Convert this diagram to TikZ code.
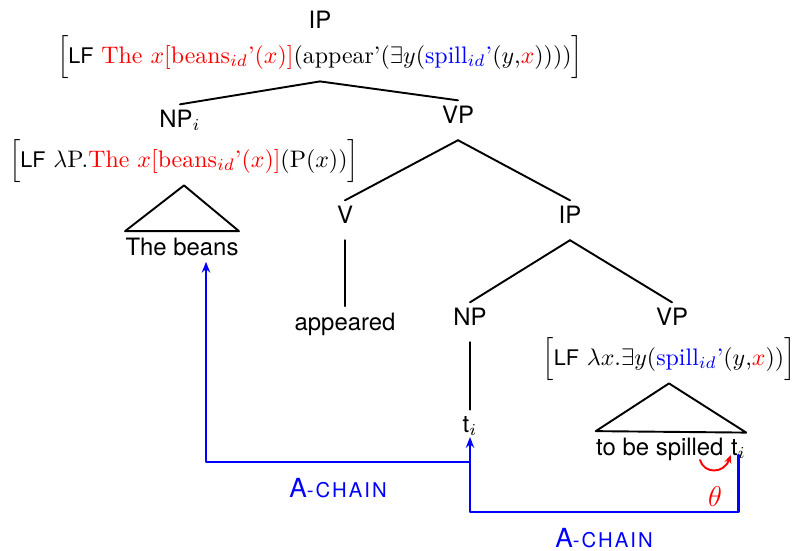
\documentclass[tikz,border=0pt]{standalone}
\usepackage{fontspec}
\setsansfont{TeX Gyre Heros}
\usepackage{amsmath}
\usepackage{xcolor}
\usetikzlibrary{arrows.meta,calc}

\newcommand{\lftag}{\textsf{\small LF}}
\newcommand{\achainlabel}{{\fontsize{11}{13}\selectfont A}{\fontsize{8.5}{10}\selectfont\addfontfeature{LetterSpace=10}-CHAIN}}

\begin{document}
\begin{tikzpicture}[
    x=0.4184pt, y=-0.4184pt,
    line cap=round,
    line join=round,
    every node/.style={font=\sffamily},
    cat/.style={inner xsep=1pt, inner ysep=2pt, text depth=5pt, anchor=base},
    leaf/.style={inner xsep=0pt, inner ysep=2.5pt, anchor=base},
    lf/.style={font=\rmfamily, inner sep=1pt, anchor=base},
    branch/.style={line width=0.8pt},
    achain/.style={blue, line width=1pt, -{Stealth[length=4.5pt,width=3.5pt]}},
    chainlabel/.style={blue, anchor=base}
]

\useasboundingbox (0,0) rectangle (798,550);

% -----------------------------
% Top: IP and its LF
% -----------------------------
\node[cat] (ip) at (320,28) {IP};
\node[lf] (iplf) at (320,63)
{$\Big[$\lftag\ \textcolor{red}{The $x$[beans$_{id}$'($x$)]}(appear'($\exists y$(\textcolor{blue}{spill$_{id}$'}($y$,\textcolor{red}{$x$}))))$\Big]$};

% -----------------------------
% Subject NP
% -----------------------------
\node[cat] (np) at (180,127) {NP$_i$};
\node[lf] (nplf) at (184,167)
{$\Big[$\lftag\ $\lambda$P.\textcolor{red}{The $x$[beans$_{id}$'($x$)]}(P($x$))$\Big]$};
\node[leaf] (beans) at (182,255) {The beans};

\draw[branch] (beans.north west) -- (nplf.south) -- (beans.north east) -- cycle;

% -----------------------------
% Matrix VP
% -----------------------------
\node[cat] (vp) at (458,123) {VP};
\node[cat] (v) at (345,223) {V};
\node[leaf] (appeared) at (345,330) {appeared};
\node[cat] (ipb) at (570,223) {IP};

\draw[branch] (iplf.south) -- (np.north);
\draw[branch] (iplf.south) -- (vp.north);
\draw[branch] (vp.south) -- (v.north);
\draw[branch] (vp.south) -- (ipb.north);
\draw[branch] (v.south) -- (appeared.north);

% -----------------------------
% Embedded IP
% -----------------------------
\node[cat] (npb) at (470,325) {NP};
\node[leaf] (ti) at (470,432) {t$_i$};
\node[cat] (vpb) at (672,325) {VP};
\node[lf] (vplf) at (669,365)
{$\Big[$\lftag\ $\lambda x.\exists y$(\textcolor{blue}{spill$_{id}$'}($y$,\textcolor{red}{$x$}))$\Big]$};

\node[leaf, anchor=base east] (spilled) at (724,455) {to be spilled};
\node[leaf, anchor=base west] (tobj) at ([xshift=2.78pt]spilled.base east) {t$_i$};

\draw[branch] (ipb.south) -- (npb.north);
\draw[branch] (ipb.south) -- (vpb.north);
\draw[branch] (npb.south) -- (ti.north);
\draw[branch] (spilled.north west) -- (vplf.south) -- (tobj.north east) -- cycle;

% -----------------------------
% Chains and theta role
% -----------------------------
\coordinate (join) at (470,462);
\coordinate (low) at (470,512);
\coordinate (thstart) at (700,460);

\draw[achain] (join) -| ($(beans.south)+(24,0)$);
\draw[achain] (tobj.base) |- (low) -- ($(ti.south)+(0,-5)$);

\node[chainlabel] (chainup) at (338,497) {\achainlabel};
\node[chainlabel] (chainlow) at (604,547) {\achainlabel};

\draw[red, line width=0.8pt, -{Stealth[length=3.5pt,width=3pt]}]
(thstart) .. controls (704,474) and (724,474) .. (tobj.base west);
\node[red] (theta) at (715,497) {\large$\theta$};

\end{tikzpicture}
\end{document}
